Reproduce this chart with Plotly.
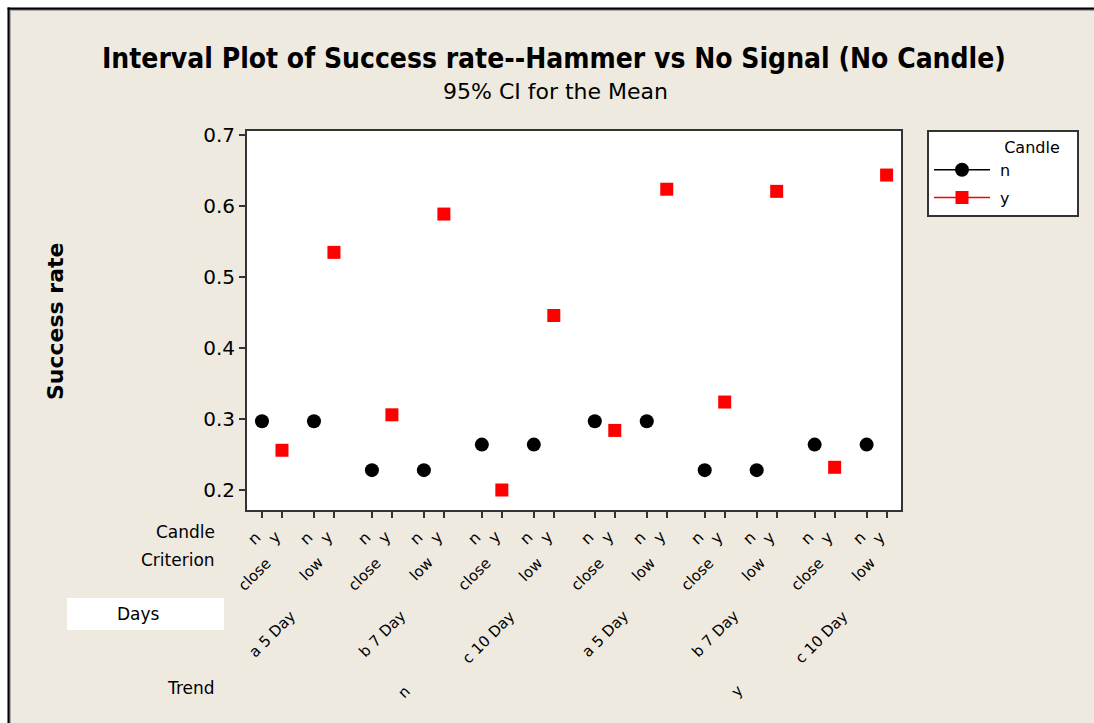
import plotly.graph_objects as go

# ---------------- data ----------------
trend = ["n", "y"]
days = ["a 5 Day", "b 7 Day", "c 10 Day"]
criterion = ["close", "low"]
candle = ["n", "y"]

# success rate means, ordered trend -> days -> criterion
rate_n = [0.297, 0.297, 0.228, 0.228, 0.264, 0.264,
          0.297, 0.297, 0.228, 0.228, 0.264, 0.264]
rate_y = [0.256, 0.535, 0.306, 0.589, 0.200, 0.446,
          0.284, 0.624, 0.324, 0.621, 0.232, 0.644]

# ---------------- layout of hierarchical categories ----------------
STEP_CANDLE, STEP_CRIT, STEP_DAY, STEP_TREND = 1.0, 2.6, 5.5, 16.65


def pos(t, d, c, k):
    return t * STEP_TREND + d * STEP_DAY + c * STEP_CRIT + k * STEP_CANDLE


xs_n, xs_y = [], []
tickvals, ticktext = [], []
crit_centers, day_centers, trend_centers = [], [], []
for t in range(len(trend)):
    for d in range(len(days)):
        for c in range(len(criterion)):
            for k in range(len(candle)):
                tickvals.append(pos(t, d, c, k))
                ticktext.append(candle[k])
            xs_n.append(pos(t, d, c, 0))
            xs_y.append(pos(t, d, c, 1))
            crit_centers.append(((pos(t, d, c, 0) + pos(t, d, c, 1)) / 2, criterion[c]))
        day_centers.append(((pos(t, d, 0, 0) + pos(t, d, 1, 1)) / 2, days[d]))
    trend_centers.append(((pos(t, 0, 0, 0) + pos(t, 2, 1, 1)) / 2, trend[t]))


def gapped(xs, ys):
    gx, gy = [], []
    for x, y in zip(xs, ys):
        gx += [x, None]
        gy += [y, None]
    return gx[:-1], gy[:-1]


FONT = "DejaVu Sans"
BG = "#EEEAE0"
AX = "#333333"
NB = "\u00a0"

fig = go.Figure()
gx, gy = gapped(xs_n, rate_n)
fig.add_trace(go.Scatter(x=gx, y=gy, name=NB + "n" + NB * 12, legendgroup="n",
                         mode="lines+markers", connectgaps=False,
                         line=dict(color="black", width=1.5),
                         marker=dict(symbol="circle", size=14, color="black")))
gx, gy = gapped(xs_y, rate_y)
fig.add_trace(go.Scatter(x=gx, y=gy, name=NB + "y" + NB * 12, legendgroup="y",
                         mode="lines+markers", connectgaps=False,
                         line=dict(color="red", width=1.5),
                         marker=dict(symbol="square", size=13, color="red")))

# body margin removed by post_script: figure drawn from (0,0) in page pixels
OFF = 0
W, H = 1094 - OFF, 723 - OFF
PL, PR, PT, PB = 247, 901, 131, 510  # plot area in page pixels
ML, MR, MT, MB = PL - OFF, W - (PR - OFF), PT - OFF, H - (PB - OFF)
PW, PH = PR - PL, PB - PT


def px_x(px):
    return (px - PL) / PW


def px_y(py):
    return (PB - py) / PH


ann = []
ann.append(dict(text="<b>Interval Plot of Success rate--Hammer vs No Signal (No Candle)</b>",
                x=px_x(554), y=px_y(58), xref="paper", yref="paper",
                xanchor="center", yanchor="middle", showarrow=False,
                font=dict(family="DejaVu Sans Condensed, DejaVu Sans", size=28, color="black")))
ann.append(dict(text="95% CI for the Mean",
                x=px_x(555), y=px_y(91), xref="paper", yref="paper",
                xanchor="center", yanchor="middle", showarrow=False,
                font=dict(family=FONT, size=22, color="black")))
ann.append(dict(text="<b>Success rate</b>", x=px_x(55), y=px_y(321),
                xref="paper", yref="paper", textangle=-90,
                xanchor="center", yanchor="middle", showarrow=False,
                font=dict(family=FONT, size=22, color="black")))
for txt, py in [("Candle", 532), ("Criterion", 560), ("Trend", 688)]:
    ann.append(dict(text=txt, x=px_x(217), y=px_y(py), xref="paper", yref="paper",
                    xanchor="right", yanchor="middle", showarrow=False,
                    font=dict(family=FONT, size=17, color="black")))
ann.append(dict(text="Days", x=px_x(138), y=px_y(614), xref="paper", yref="paper",
                xanchor="center", yanchor="middle", showarrow=False,
                font=dict(family=FONT, size=17, color="black")))
# candle tick labels (rotated)
for xv, txt in zip(tickvals, ticktext):
    ann.append(dict(text=txt, x=xv, y=px_y(525), xref="x", yref="paper",
                    xanchor="right", yanchor="top", textangle=-45, showarrow=False,
                    xshift=5, font=dict(family=FONT, size=16, color="black")))
for rows, py, xs in [(crit_centers, 551, 6), (day_centers, 604, 4), (trend_centers, 679, 9)]:
    for xc, txt in rows:
        ann.append(dict(text=txt, x=xc, y=px_y(py), xref="x", yref="paper",
                        xanchor="right", yanchor="top", textangle=-45, showarrow=False,
                        xshift=xs,
                        font=dict(family=FONT, size=15, color="black")))

shapes = [
    # white page margin strips (left & top)
    dict(type="rect", xref="paper", yref="paper", x0=px_x(-10), x1=px_x(7.6),
         y0=px_y(800), y1=px_y(-10), fillcolor="white", line=dict(width=0)),
    dict(type="rect", xref="paper", yref="paper", x0=px_x(-10), x1=px_x(1200),
         y0=px_y(7.6), y1=px_y(-10), fillcolor="white", line=dict(width=0)),
    dict(type="rect", xref="paper", yref="paper", x0=px_x(67), x1=px_x(224),
         y0=px_y(630), y1=px_y(598), fillcolor="white", line=dict(width=0), layer="below"),
    dict(type="line", xref="paper", yref="paper", x0=px_x(10.5), x1=px_x(10.5),
         y0=px_y(10), y1=px_y(800), line=dict(color="#A8A8A8", width=1)),
    dict(type="line", xref="paper", yref="paper", x0=px_x(10.5), x1=px_x(1200),
         y0=px_y(10.5), y1=px_y(10.5), line=dict(color="#A8A8A8", width=1)),
    dict(type="line", xref="paper", yref="paper", x0=px_x(8.6), x1=px_x(8.6),
         y0=px_y(7.6), y1=px_y(800), line=dict(color="black", width=2.2)),
    dict(type="line", xref="paper", yref="paper", x0=px_x(7.6), x1=px_x(1200),
         y0=px_y(8.6), y1=px_y(8.6), line=dict(color="black", width=2.2)),
]

fig.update_layout(
    width=W, height=H,
    margin=dict(l=ML, r=MR, t=MT, b=MB, autoexpand=False),
    paper_bgcolor=BG, plot_bgcolor="white",
    showlegend=True,
    legend=dict(x=px_x(927), y=px_y(130), xanchor="left", yanchor="top",
                bgcolor="white", bordercolor=AX, borderwidth=2,
                font=dict(family=FONT, size=16, color="black"),
                title=dict(text="Candle" + NB * 3, side="top right",
                           font=dict(family=FONT, size=16, color="black")),
                itemwidth=56, tracegroupgap=4),
    annotations=ann, shapes=shapes,
    xaxis=dict(range=[-0.75, 31.97], tickvals=tickvals, showticklabels=False,
               ticks="outside", ticklen=6, tickwidth=1.5, tickcolor=AX,
               showline=True, linecolor=AX, linewidth=2, mirror=True,
               showgrid=False, zeroline=False),
    yaxis=dict(range=[0.1718, 0.7061], tickvals=[0.2, 0.3, 0.4, 0.5, 0.6, 0.7],
               ticktext=["0.2", "0.3", "0.4", "0.5", "0.6", "0.7"],
               ticks="outside", ticklen=6, tickwidth=1.5, tickcolor=AX,
               showline=True, linecolor=AX, linewidth=2, mirror=True,
               showgrid=False, zeroline=False,
               tickfont=dict(family=FONT, size=20, color="black")),
)

fig.write_html("out.html",
               config={"displayModeBar": False},
               post_script="document.body.style.margin='0';"
                           "document.documentElement.style.overflow='hidden';"
                           "document.body.style.overflow='hidden';")
